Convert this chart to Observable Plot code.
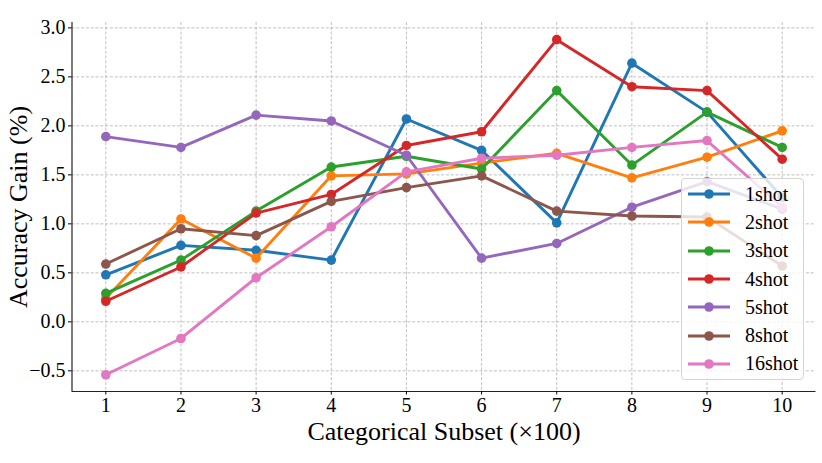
<!DOCTYPE html>
<html>
<head>
<meta charset="utf-8">
<script src="https://cdn.jsdelivr.net/npm/d3@7"></script>
<script src="https://cdn.jsdelivr.net/npm/@observablehq/plot@0.6"></script>
<style>
  html, body { margin: 0; padding: 0; background: white; }
  #wrap { position: relative; width: 822px; height: 463px; }
  #legend {
    position: absolute; left: 681px; top: 178px; width: 123px; height: 202px;
    box-sizing: border-box; border: 1px solid #d5d5d5; border-radius: 4px;
    background: rgba(255,255,255,0.8); font-family: "Liberation Serif", serif; font-size: 20px;
    padding-top: 1px;
  }
  .item { display: flex; align-items: center; height: 28.3px; }
  .item svg { margin-left: 6px; margin-right: 15px; }
</style>
</head>
<body>
<div id="wrap"><div id="chart"></div><div id="legend"></div></div>
<script>
const subsets = [1, 2, 3, 4, 5, 6, 7, 8, 9, 10];
const seriesNames = ["1shot", "2shot", "3shot", "4shot", "5shot", "8shot", "16shot"];
const colors = ["#1f77b4", "#ff7f0e", "#2ca02c", "#d62728", "#9467bd", "#8c564b", "#e377c2"];
const shot1  = [0.48, 0.78, 0.73, 0.63, 2.07, 1.75, 1.01, 2.64, 2.14, 1.27];
const shot2  = [0.24, 1.05, 0.65, 1.49, 1.51, 1.62, 1.72, 1.47, 1.68, 1.95];
const shot3  = [0.29, 0.63, 1.13, 1.58, 1.69, 1.56, 2.36, 1.60, 2.14, 1.78];
const shot4  = [0.21, 0.56, 1.11, 1.30, 1.80, 1.94, 2.88, 2.40, 2.36, 1.66];
const shot5  = [1.89, 1.78, 2.11, 2.05, 1.70, 0.65, 0.80, 1.17, 1.43, 1.15];
const shot8  = [0.59, 0.95, 0.88, 1.23, 1.37, 1.49, 1.13, 1.08, 1.07, 0.57];
const shot16 = [-0.54, -0.17, 0.45, 0.97, 1.53, 1.67, 1.70, 1.78, 1.85, 1.17];
const seriesValues = [shot1, shot2, shot3, shot4, shot5, shot8, shot16];
const yTicks = [-0.5, 0, 0.5, 1.0, 1.5, 2.0, 2.5, 3.0];

const xDomain = [0.55, 10.45];
const yDomain = [-0.711, 3.055];

const seriesMarks = seriesNames.flatMap((name, i) => {
  const data = subsets.map((x, j) => ({x, y: seriesValues[i][j]}));
  return [
    Plot.line(data, {x: "x", y: "y", stroke: colors[i], strokeWidth: 2.9}),
    Plot.dot(data, {x: "x", y: "y", fill: colors[i], r: 4.8, stroke: "none"})
  ];
});

const gridStyle = {stroke: "#b0b0b0", strokeOpacity: 1, strokeWidth: 0.8, strokeDasharray: "3,1.8"};
const fmtY = d => (d < 0 ? "\u2212" : "") + Math.abs(d).toFixed(1);

const chart = Plot.plot({
  width: 822, height: 463,
  marginLeft: 71.5, marginRight: 6.5, marginTop: 22, marginBottom: 72,
  style: {fontFamily: "'Liberation Serif', serif", fontSize: "20px", background: "white", color: "black"},
  x: {domain: xDomain, label: null},
  y: {domain: yDomain, label: null},
  marks: [
    Plot.gridX(subsets, gridStyle),
    Plot.gridY(yTicks, gridStyle),
    ...seriesMarks,
    Plot.ruleX([xDomain[0]], {stroke: "#222", strokeWidth: 1.2}),
    Plot.ruleY([yDomain[0]], {stroke: "#222", strokeWidth: 1.2}),
    Plot.axisX(subsets, {tickSize: 3.5, tickPadding: 3, tickFormat: d => String(d), fontSize: 20, label: null}),
    Plot.axisY(yTicks, {tickSize: 3.5, tickPadding: 3, tickFormat: fmtY, fontSize: 20, label: null}),
    Plot.axisX([], {label: "Categorical Subset (×100)", labelAnchor: "center", labelArrow: "none", labelOffset: 48, fontSize: 26, tickSize: 0}),
    Plot.axisY([], {label: "Accuracy Gain (%)", labelAnchor: "center", labelArrow: "none", labelOffset: 63, fontSize: 26, tickSize: 0})
  ]
});
document.getElementById("chart").appendChild(chart);

const legend = document.getElementById("legend");
seriesNames.forEach((name, i) => {
  const item = document.createElement("div");
  item.className = "item";
  item.innerHTML = `<svg width="42" height="14"><line x1="0" y1="7" x2="42" y2="7" stroke="${colors[i]}" stroke-width="2.9"/><circle cx="21" cy="7" r="4.8" fill="${colors[i]}"/></svg><span>${name}</span>`;
  legend.appendChild(item);
});
</script>
</body>
</html>
